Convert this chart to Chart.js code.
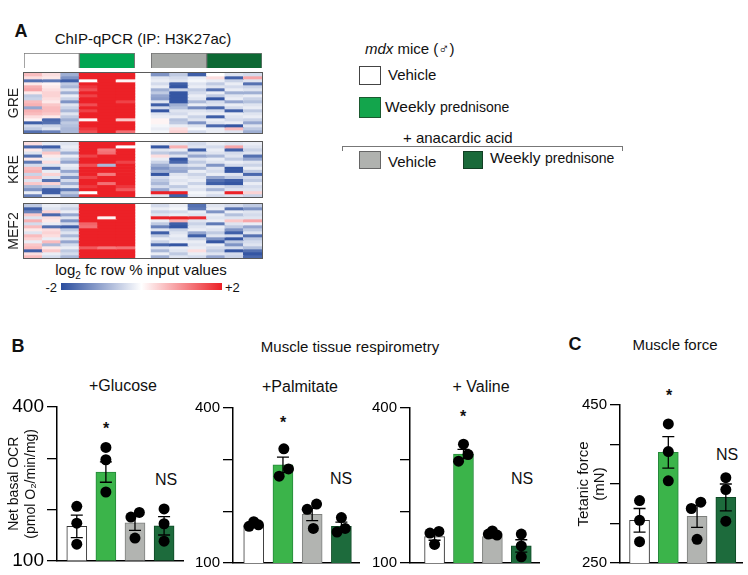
<!DOCTYPE html>
<html>
<head>
<meta charset="utf-8">
<script src="https://cdn.jsdelivr.net/npm/chart.js@4.4.1/dist/chart.umd.min.js"></script>
<style>
  body { margin: 0; background: #fff; font-family: 'Liberation Sans', Arial, sans-serif; color: #111; }
  #fig { position: relative; width: 748px; height: 575px; overflow: hidden; }
  #fig canvas { position: absolute; }
  .c, .l, .r { position: absolute; white-space: nowrap; line-height: 1; }
  .c { transform: translate(-50%, -50%); }
  .l { transform: translateY(-50%); }
  .r { transform: translate(-100%, -50%); }
  .box { position: absolute; box-sizing: border-box; }
  .tag { font-weight: bold; font-size: 18px; }
  .star { font-size: 16px; font-weight: bold; }
  .ns { font-size: 16px; }
</style>
</head>
<body>
<div id="fig">
  <!-- A：热图 + 图例 -->
  <div class="c tag" style="left:21px;top:31px">A</div>
  <div class="c" style="left:143px;top:38px;font-size:15px">ChIP-qPCR (IP: H3K27ac)</div>
  <div class="c" style="left:141px;top:271px;font-size:15px">log<sub style="font-size:10px">2</sub> fc row % input values</div>
  <div class="r" id="cbMin" style="left:57px;top:287px;font-size:13px"></div>
  <div class="l" id="cbMax" style="left:225px;top:287px;font-size:13px"></div>

  <div class="l" style="left:365px;top:48px;font-size:15px"><i>mdx</i> mice (♂)</div>
  <div class="box" style="left:359px;top:66px;width:22px;height:19px;background:#fff;border:1.5px solid #444"></div>
  <div class="l" style="left:388px;top:74px;font-size:15px">Vehicle</div>
  <div class="box" style="left:359px;top:97px;width:22px;height:21px;background:#13a54c;border:1px solid #1c5a30"></div>
  <div class="l" style="left:385px;top:107px"><span style="font-size:15.5px">Weekly</span> <span style="font-size:14px">prednisone</span></div>
  <div class="l" style="left:403px;top:137px;font-size:15px">+ anacardic acid</div>
  <div class="box" style="left:342px;top:146px;width:281px;height:5px;border:1px solid #777;border-bottom:none"></div>
  <div class="box" style="left:359px;top:151px;width:22px;height:18px;background:#b0b2af;border:1px solid #666"></div>
  <div class="l" style="left:388px;top:161px;font-size:15px">Vehicle</div>
  <div class="box" style="left:463px;top:151px;width:20px;height:18px;background:#1a6a3a;border:1px solid #123f24"></div>
  <div class="l" style="left:490px;top:158px"><span style="font-size:15.5px">Weekly</span> <span style="font-size:14px">prednisone</span></div>

  <!-- B：组织呼吸 -->
  <div class="c tag" style="left:18px;top:346px">B</div>
  <div class="c" style="left:350px;top:346px;font-size:15px">Muscle tissue respirometry</div>
  <div class="c" style="left:123px;top:386px;font-size:16px">+Glucose</div>
  <div class="c" style="left:300px;top:387px;font-size:16px">+Palmitate</div>
  <div class="c" style="left:481px;top:387px;font-size:16px">+ Valine</div>
  <div class="c star" style="left:106px;top:429px">*</div>
  <div class="c ns" style="left:166px;top:480px">NS</div>
  <div class="c star" style="left:283px;top:423px">*</div>
  <div class="c ns" style="left:341px;top:479px">NS</div>
  <div class="c star" style="left:463px;top:417px">*</div>
  <div class="c ns" style="left:522px;top:479px">NS</div>

  <!-- C：肌力 -->
  <div class="c tag" style="left:575px;top:344px">C</div>
  <div class="c" style="left:675px;top:344px;font-size:15px">Muscle force</div>
  <div class="c star" style="left:669px;top:396px">*</div>
  <div class="c ns" style="left:727px;top:455px">NS</div>
</div>

<script>
// ---- 热图数据（log2 fc，-2..+2），列：3 Vehicle | 3 Pred | 3 AA+Vehicle | 3 AA+Pred ----
const greRows = [
  [0.6, 0.3, -0.9, 2, 2, 2, -1.2, -0.6, -1.8, 0, -0.3, -0.4],
  [0.3, 0.2, -1.2, 2, 2, 2, -0.3, -0.4, -0.2, 0.3, -1.8, 0.8],
  [-1.6, -1.5, -1.8, 0, 2, 0.1, -0.2, -0.3, -0.1, -0.2, -0.5, -0.3],
  [0.2, 0.1, -0.6, 2, 2, 2, -0.4, -1.8, -0.3, -0.6, -0.2, -1.6],
  [0.7, 0.2, -0.8, 1.8, 2, 2, -0.2, -1.9, -0.2, -0.3, -0.4, -0.5],
  [0.8, 0.3, -0.3, 1.6, 2, 2, -0.9, -0.5, -0.6, -1.6, -0.2, -0.3],
  [0.2, 0.4, -0.9, 2, 2, 2, -0.6, -1.9, -0.4, -0.2, -0.9, -0.9],
  [-0.6, 0.4, -0.2, 1.7, 2, 2, -1.0, -1.9, -0.2, -0.6, -0.3, -0.2],
  [-0.5, 0.3, -0.5, 2, 2, 2, -1.1, -1.9, -0.3, -1.9, -0.2, -0.5],
  [0.6, 0.2, -1.2, 2, 2, 1.7, -0.3, -1.9, -0.8, -0.4, -1.0, -0.7],
  [0.7, 0.5, -0.3, 1.6, 2, 2, -1.8, -0.9, -0.2, -0.3, -0.2, -0.3],
  [-1.0, 0.6, -0.5, 2, 2, 2, -0.4, -0.7, -1.3, -1.7, -0.4, -0.2],
  [0.7, 0.6, -0.8, 1.7, 2, 2, -1.9, -0.3, -0.3, -0.4, -1.8, -0.6],
  [0.6, 0.5, -0.3, 2, 2, 2, -0.3, -0.4, -0.2, -0.2, -0.2, -0.3],
  [0.3, 0.2, -0.6, 2, 2, 2, -0.2, -0.2, -0.5, -1.8, -0.3, -0.2],
  [0.1, -1.7, -0.9, 0.1, 2, 0.5, 0.1, -0.7, -0.3, -0.2, -0.4, -0.5],
  [-1.8, -1.6, -0.6, 2, 2, 2, 0.1, -0.6, -1.2, -0.3, -0.2, -1.0],
  [-0.4, -0.5, -0.7, 2, 2, 2, -0.1, -0.2, -0.3, -1.7, -1.9, -0.3],
  [-0.6, -0.3, -0.8, 1.8, 2, 2, -0.2, 0.3, -0.1, -0.2, 0.6, -0.6],
  [-1.6, -1.4, -0.8, 1.6, 2, 1.3, -0.1, 0.4, -0.4, -0.2, -0.3, -0.9]
];
const kreRows = [
  [0.3, -0.2, -0.3, 2, 2, 2, -0.2, -0.3, -0.4, -0.2, -0.3, -0.2],
  [-1.7, -1.8, -0.2, 2, 2, 0.0, -1.9, 0.7, -0.3, -0.4, 0.8, -0.3],
  [0.2, -0.6, -0.3, 2, 1.2, 2, -0.3, -0.2, -1.8, -0.2, -1.8, -0.5],
  [-0.3, 0.5, -0.9, 2, 1.3, 2, -0.6, -0.8, -0.4, -0.3, -0.4, -0.3],
  [-1.6, 0.2, -0.2, 1.7, 2, 2, 0.3, -0.3, -1.0, -0.8, -0.3, -1.6],
  [0.2, -0.2, -0.6, 2, 2, 2, -0.2, -1.9, -0.3, -0.2, -0.6, -1.0],
  [-1.5, 0.3, -1.0, 2, 2, 1.7, -0.5, -1.7, -0.6, -0.3, -0.2, -0.3],
  [-0.4, -0.3, -0.2, 1.6, -0.8, 2, -0.9, -0.5, -0.3, -1.2, -0.4, -0.5],
  [0.6, -1.6, -0.3, 2, 2, 2, -1.2, -0.9, -0.8, -0.3, -1.9, -0.2],
  [0.7, -0.2, -1.0, 2, 2, 2, -0.9, -1.0, -0.2, -0.4, -1.9, -0.6],
  [-0.5, 0.4, -0.4, 2, 1.2, 2, -1.9, -0.3, -0.5, -0.2, -0.3, -1.7],
  [0.6, -0.3, -1.2, 1.7, 2, 2, -0.4, -0.2, -0.3, -1.0, -0.6, -0.4],
  [-0.3, -1.6, -0.4, 2, 2, 2, -0.6, -0.3, -0.2, -1.6, -1.8, -0.6],
  [0.5, 0.4, -0.9, 2, 1.3, 2, -0.8, -0.2, -0.5, -1.8, -1.9, -0.2],
  [-0.8, -0.6, -0.3, 1.8, 2, 1.8, -0.4, -0.6, -0.2, -0.3, -0.5, -0.4],
  [-1.2, -1.8, -1.5, 2, 2, 1.5, -1.0, -0.3, -0.3, -0.8, -0.3, -0.3],
  [-0.2, -1.8, -0.6, 0.0, 2, 2, 2, 2, -0.1, -0.2, 2, 0.4],
  [-1.4, -0.3, -1.0, 2, 2, 2, -0.3, -1.8, -0.2, -0.4, -0.3, -0.5]
];
const mef2Rows = [
  [-0.6, -0.2, -0.3, 2, 2, 2, -0.4, -0.2, -1.6, -0.3, -0.4, -0.6],
  [-1.8, -0.3, -0.5, 2, 2, 2, -0.2, -0.1, -1.5, -0.2, -1.6, -1.2],
  [-1.4, 0.4, -0.2, 2, 2, 2, -0.5, -0.4, -0.2, -1.2, -0.2, -0.3],
  [0.5, -1.7, -1.0, 2, 2, 2, -0.3, -0.2, -0.3, -0.2, -0.7, -0.4],
  [-0.3, 0.3, -0.3, 2, 0.1, 2, 2, 2, 1.9, -0.3, -0.3, -0.3],
  [0.7, 0.2, -1.2, 2, 2, 2, -0.2, 0.7, -0.3, -0.2, 0.5, 0.8],
  [-0.4, -0.2, -0.4, 1.4, 2, 2, -0.6, -1.8, -0.5, -1.5, -0.3, -0.2],
  [0.6, -1.6, -1.8, 1.3, 2, 2, -1.4, -1.9, -0.3, -0.2, -0.6, -1.0],
  [0.2, 0.3, -0.6, 2, 2, 2, -0.3, -0.5, -0.2, -0.3, -1.2, -0.6],
  [-0.3, 0.4, -0.3, 2, 2, 2, -1.8, -0.3, -1.0, -0.6, -1.8, -0.3],
  [0.6, 0.3, -0.8, 2, 2, 2, -0.6, -0.2, -1.8, -0.3, -0.4, -1.6],
  [0.4, -0.2, -0.3, 2, 2, 2, -0.2, -0.3, -0.5, -1.2, -1.9, -0.6],
  [-0.2, 0.6, -1.0, 2, 2, 2, -0.5, -0.2, -0.2, -1.9, -0.6, -0.4],
  [0.5, -0.8, -0.4, 2, 2, 2, -1.7, -1.9, -0.3, -0.2, -1.2, -0.3],
  [0.6, 0.2, -0.2, 1.5, 1.2, 1.3, -0.3, -0.2, -0.2, -0.4, -0.4, -0.7],
  [-1.8, 0.5, -0.6, 2, 2, 2, -0.8, -0.3, 0.3, -0.6, -1.9, -1.6],
  [0.3, -0.2, -0.4, 2, 2, 2, -0.2, -0.6, -0.2, -0.3, -0.4, -1.9],
  [0.6, -0.4, -0.8, 2, 2, 2, -0.9, -0.3, -0.4, -1.0, -0.5, -1.7]
];
const heatGroupColors = ['#ffffff', '#00a651', '#a8aaa7', '#0d6934'];
const colorbarTicks = ['-2', '+2'];
const colorbarStops = [-2, -1, 0, 1, 2];

// ---- B：净基础 OCR (pmol O2/min/mg)，组：Vehicle / Pred / AA+Vehicle / AA+Pred ----
const glucoseMean = [167, 273, 174, 168];
const glucoseSem = [22, 20, 15, 18];
const glucoseDots = [[206, 173, 132], [321, 297, 234], [185, 194, 144], [201, 172, 138]];
const glucoseJitter = [[0, 0, 0], [0, 0, 0], [-0.14, 0.15, 0], [0, 0, 0]];

const palmitateMean = [174, 290, 194, 171];
const palmitateSem = [4, 15, 12, 8];
const palmitateDots = [[171, 180, 174], [321, 282, 268], [204, 214, 167], [188, 160, 167]];
const palmitateJitter = [[-0.16, 0, 0.16], [0.03, 0.19, -0.13], [-0.17, 0.15, 0.04], [0, -0.15, 0.13]];

const valineMean = [151, 311, 151, 133];
const valineSem = [7, 9, 3, 12];
const valineDots = [[158, 161, 136], [330, 297, 310], [156, 162, 154], [156, 133, 112]];
const valineJitter = [[-0.16, 0.15, 0], [0, -0.17, 0.16], [-0.14, 0, 0.16], [0, 0, 0]];

// ---- C：强直收缩力 (mN) ----
const forceMean = [304, 390, 309, 333];
const forceSem = [15, 20, 14, 17];
const forceDots = [[329, 304, 277], [426, 391, 354], [319, 327, 280], [358, 343, 303]];
const forceJitter = [[0, 0, 0], [0, 0, 0], [-0.2, 0.13, 0], [0, 0, 0]];

const barFill = ['#ffffff', '#3bb44a', '#b2b4b1', '#1d6b3c'];
const barEdge = ['#333333', '#25883a', '#7d7f7c', '#0f4a26'];

Chart.defaults.font.family = "'Liberation Sans', Arial, sans-serif";
Chart.defaults.color = '#111';

const fig = document.getElementById('fig');
function canvasAt(left, top, w, h) {
  const c = document.createElement('canvas');
  c.width = w; c.height = h;
  c.style.left = left + 'px'; c.style.top = top + 'px';
  c.style.width = w + 'px'; c.style.height = h + 'px';
  fig.appendChild(c);
  return c;
}

const RED = [236, 33, 39], BLUE = [42, 77, 158];
function heatColor(v) {
  const t = Math.max(-1, Math.min(1, v / 2));
  const end = t < 0 ? BLUE : RED, a = Math.abs(t);
  return 'rgb(' + end.map(e => Math.round(255 + (e - 255) * a)).join(',') + ')';
}
// 左右两组之间留空
function colX(c) { return c < 6 ? c : c + 0.9; }
const HEAT_MIN = -0.5, HEAT_MAX = 12.4, HEAT_W = 238;

const frame = {
  id: 'frame',
  afterDraw(chart) {
    const a = chart.chartArea, ctx = chart.ctx;
    ctx.save();
    ctx.strokeStyle = '#5a5a5a';
    ctx.lineWidth = 1;
    ctx.strokeRect(a.left - 0.5, a.top - 0.5, a.right - a.left + 1, a.bottom - a.top + 1);
    ctx.restore();
  }
};

function heatmap(top, height, label, rows) {
  new Chart(canvasAt(4, top, HEAT_W + 21, height), {
    type: 'bar',
    data: {
      datasets: rows.map(row => ({
        data: row.map((v, c) => ({ x: colX(c), y: 1 })),
        backgroundColor: row.map(heatColor),
        borderWidth: 0,
        barThickness: HEAT_W / (HEAT_MAX - HEAT_MIN) + 0.4
      }))
    },
    plugins: [frame],
    options: {
      responsive: false, animation: false,
      layout: { padding: { top: 1, right: 1, bottom: 1, left: 0 } },
      plugins: { legend: { display: false }, tooltip: { enabled: false } },
      scales: {
        x: { type: 'linear', display: false, stacked: true, offset: false, min: HEAT_MIN, max: HEAT_MAX },
        y: {
          stacked: true, reverse: true, min: 0, max: rows.length,
          ticks: { display: false }, grid: { display: false }, border: { display: false },
          title: { display: true, text: label, color: '#222', font: { size: 14, lineHeight: 1.2 }, padding: { top: 1.6, bottom: 0 } },
          afterFit: s => { s.width = 20; }
        }
      }
    }
  });
}

// 列头色条
new Chart(canvasAt(24, 52, HEAT_W + 1, 17), {
  type: 'bar',
  data: {
    datasets: [{
      data: heatGroupColors.map((_, g) => ({ x: colX(3 * g + 1), y: [0, 1] })),
      backgroundColor: heatGroupColors,
      borderColor: '#777',
      borderWidth: 1,
      barThickness: 3 * HEAT_W / (HEAT_MAX - HEAT_MIN)
    }]
  },
  options: {
    responsive: false, animation: false,
    layout: { padding: { top: 1, right: 1, bottom: 1, left: 0 } },
    plugins: { legend: { display: false }, tooltip: { enabled: false } },
    scales: {
      x: { type: 'linear', display: false, offset: false, min: HEAT_MIN, max: HEAT_MAX },
      y: { display: false, min: 0, max: 1 }
    }
  }
});

heatmap(72, 62, 'GRE', greRows);
heatmap(141, 57, 'KRE', kreRows);
heatmap(203, 56, 'MEF2', mef2Rows);

// 色标
document.getElementById('cbMin').textContent = colorbarTicks[0];
document.getElementById('cbMax').textContent = colorbarTicks[1];
new Chart(canvasAt(61, 283, 161, 7), {
  type: 'bar',
  data: {
    labels: [''],
    datasets: [{
      data: [[colorbarStops[0], colorbarStops[colorbarStops.length - 1]]],
      backgroundColor: ctx => {
        const a = ctx.chart.chartArea;
        if (!a) return '#fff';
        const g = ctx.chart.ctx.createLinearGradient(a.left, 0, a.right, 0);
        const lo = colorbarStops[0], hi = colorbarStops[colorbarStops.length - 1];
        colorbarStops.forEach(s => g.addColorStop((s - lo) / (hi - lo), heatColor(s)));
        return g;
      },
      borderWidth: 0,
      barPercentage: 1,
      categoryPercentage: 1
    }]
  },
  options: {
    indexAxis: 'y',
    responsive: false, animation: false,
    layout: { padding: 0 },
    plugins: { legend: { display: false }, tooltip: { enabled: false } },
    scales: {
      x: { type: 'linear', display: false, min: -2, max: 2 },
      y: { display: false }
    }
  }
});

// 误差线：均值 ± SEM
const errorBars = {
  id: 'errorBars',
  afterDatasetDraw(chart, args, opts) {
    if (args.index !== 0 || !opts.sem) return;
    const ctx = chart.ctx, y = chart.scales.y;
    const means = chart.data.datasets[0].data;
    ctx.save();
    ctx.strokeStyle = '#000';
    ctx.lineWidth = 1.3;
    args.meta.data.forEach((bar, i) => {
      const hi = y.getPixelForValue(means[i].y + opts.sem[i]);
      const lo = y.getPixelForValue(means[i].y - opts.sem[i]);
      ctx.beginPath();
      ctx.moveTo(bar.x, hi); ctx.lineTo(bar.x, lo);
      ctx.moveTo(bar.x - 6, hi); ctx.lineTo(bar.x + 6, hi);
      ctx.moveTo(bar.x - 6, lo); ctx.lineTo(bar.x + 6, lo);
      ctx.stroke();
    });
    ctx.restore();
  }
};

function barPanel(box, mean, sem, dots, jitter) {
  const points = [];
  dots.forEach((grp, i) => grp.forEach((v, k) => points.push({ x: i + jitter[i][k], y: v })));
  new Chart(canvasAt(box.left, box.top, box.width, box.height), {
    type: 'bar',
    data: {
      datasets: [
        { type: 'bar', data: mean.map((m, i) => ({ x: i, y: m })), backgroundColor: barFill, borderColor: barEdge, borderWidth: 1, barThickness: 20, order: 1 },
        { type: 'scatter', data: points, backgroundColor: '#000', borderWidth: 0, pointRadius: 5.5, order: 0 }
      ]
    },
    plugins: [errorBars],
    options: {
      responsive: false, animation: false,
      layout: { padding: { top: box.pad[0], right: box.pad[1], bottom: box.pad[2], left: 0 } },
      plugins: { legend: { display: false }, tooltip: { enabled: false }, errorBars: { sem } },
      scales: {
        x: {
          type: 'linear', offset: false, min: box.xMin, max: box.xMax,
          ticks: { display: false }, grid: { display: false },
          border: { color: '#000', width: 1.5 },
          afterFit: s => { s.height = 0; }
        },
        y: {
          min: box.yMin, max: box.yMax,
          ticks: {
            stepSize: box.step, color: '#000', padding: 3, font: { size: box.tickFont },
            callback: v => (v === box.yMin || v === box.yMax) ? v : ''
          },
          grid: { drawOnChartArea: false, tickLength: 10, color: '#000', lineWidth: 1.3 },
          border: { color: '#000', width: 1.5 },
          title: box.title ? { display: true, text: box.title, color: '#111', font: { size: box.titleFont, lineHeight: box.titleLH }, padding: { top: box.titlePad, bottom: 0 } } : { display: false },
          afterFit: s => { s.width = box.axisW; }
        }
      }
    }
  });
}

barPanel({ left: 0, top: 390, width: 190, height: 185, axisW: 57, pad: [17, 7, 6], xMin: -0.68, xMax: 3.65,
  yMin: 100, yMax: 400, step: 100, tickFont: 19,
  title: ['Net basal OCR', '(pmol O\u2082/min/mg)'], titleFont: 14, titleLH: 1.25, titlePad: 5.25 },
  glucoseMean, glucoseSem, glucoseDots, glucoseJitter);

barPanel({ left: 193, top: 390, width: 172, height: 185, axisW: 40, pad: [18, 5, 5], xMin: -0.71, xMax: 3.62,
  yMin: 100, yMax: 400, step: 100, tickFont: 15 },
  palmitateMean, palmitateSem, palmitateDots, palmitateJitter);

barPanel({ left: 370, top: 390, width: 175, height: 185, axisW: 40, pad: [18, 5, 6], xMin: -0.85, xMax: 3.63,
  yMin: 100, yMax: 400, step: 100, tickFont: 15 },
  valineMean, valineSem, valineDots, valineJitter);

barPanel({ left: 560, top: 390, width: 188, height: 185, axisW: 60, pad: [15, 3, 8], xMin: -0.68, xMax: 3.58,
  yMin: 250, yMax: 450, step: 50, tickFont: 15,
  title: ['Tetanic force', '(mN)'], titleFont: 15, titleLH: 1.1, titlePad: 15.25 },
  forceMean, forceSem, forceDots, forceJitter);
</script>
</body>
</html>
